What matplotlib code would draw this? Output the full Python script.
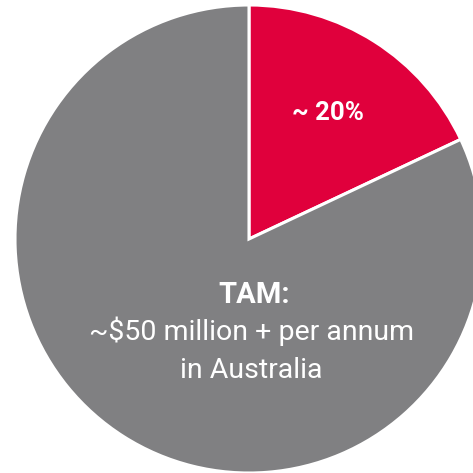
import matplotlib.pyplot as plt

# slice shares (red slice ~64 deg)
labels = ["Share", "Rest"]
values = [18, 82]
colors = ["#e0003c", "#808082"]

share_text = "~ 20%"
tam_title = "TAM:"
tam_lines = ["~$50 million + per annum", "in Australia"]

plt.rcParams['font.family'] = ['Roboto', 'DejaVu Sans']

fig = plt.figure(figsize=(4.73, 4.73), dpi=100)
# pie centre sits at about (249, 239) px, radius ~234 px
ax = fig.add_axes([15 / 473, 0 / 473, 468 / 473, 468 / 473])
ax.pie(values, colors=colors, startangle=90, counterclock=False,
       wedgeprops=dict(edgecolor="white", linewidth=2.2))
ax.set_xlim(-1, 1)
ax.set_ylim(-1, 1)
ax.set_aspect("equal")
ax.axis("off")

ax.text(0.338, 0.509, share_text, color="white", fontsize=18.5,
        fontweight="bold", ha="center", va="baseline")
ax.text(0.021, -0.274, tam_title, color="white", fontsize=21,
        fontweight="bold", ha="center", va="baseline")
ax.text(0.01, -0.432, tam_lines[0], color="white", fontsize=20.5,
        ha="center", va="baseline")
ax.text(0.01, -0.594, tam_lines[1], color="white", fontsize=20.5,
        ha="center", va="baseline")

fig.savefig("out.png", dpi=100)
